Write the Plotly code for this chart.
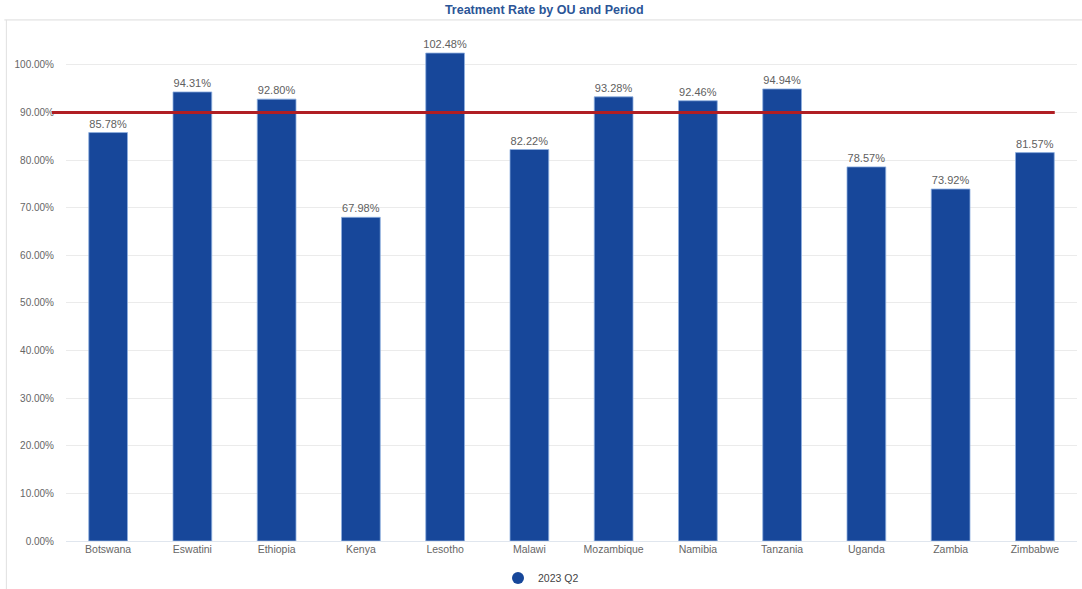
import plotly.graph_objects as go

countries = ["Botswana", "Eswatini", "Ethiopia", "Kenya", "Lesotho", "Malawi",
             "Mozambique", "Namibia", "Tanzania", "Uganda", "Zambia", "Zimbabwe"]
rates_2023q2 = [85.78, 94.31, 92.80, 67.98, 102.48, 82.22,
                93.28, 92.46, 94.94, 78.57, 73.92, 81.57]
target = 90.0
y_ticks = [0, 10, 20, 30, 40, 50, 60, 70, 80, 90, 100]
series_name = "2023 Q2"
title_text = "Treatment Rate by OU and Period"

bar_color = "#17479a"
font_family = "Liberation Sans, Arial, sans-serif"

fig = go.Figure()
fig.add_trace(go.Bar(
    x=countries, y=rates_2023q2,
    marker=dict(color=bar_color, line=dict(color="#8fb0e0", width=0.8)),
    text=[f"{v:.2f}%" for v in rates_2023q2],
    textposition="outside", cliponaxis=False, constraintext="none",
    textfont=dict(size=11, color="#606060", family=font_family),
    showlegend=False, name=series_name,
))
fig.add_trace(go.Scatter(
    x=[None], y=[None], mode="markers", name=series_name,
    marker=dict(symbol="circle", size=10, color=bar_color),
))

fig.add_shape(type="line", xref="paper", yref="y",
              x0=-0.014, x1=0.978, y0=target, y1=target,
              line=dict(color="#b01e23", width=3), layer="above")
# container decorations
fig.add_shape(type="line", xref="paper", yref="paper",
              x0=-0.061, x1=1.005, y0=1.004, y1=1.004,
              line=dict(color="#dcdcdc", width=1))
fig.add_shape(type="line", xref="paper", yref="paper",
              x0=-0.059, x1=-0.059, y0=1.004, y1=-0.1,
              line=dict(color="#e0e0e0", width=1))

fig.update_layout(
    width=1082, height=589,
    margin=dict(l=66, r=5, t=22, b=48),
    paper_bgcolor="white", plot_bgcolor="white",
    bargap=0.54,
    title=dict(text=title_text, x=0.503, xanchor="center", yref="container",
               y=1 - 10 / 589, yanchor="middle",
               font=dict(size=12.5, color="#2b5597", family=font_family, weight="bold")),
    font=dict(family=font_family, color="#666666", size=10),
    xaxis=dict(showgrid=False, showline=False, ticks="", tickfont=dict(size=10.5, color="#666666"),
               tickangle=0, automargin=False),
    yaxis=dict(range=[0, 109], tickvals=y_ticks, ticktext=[f"{v:.2f}%" for v in y_ticks],
               showgrid=True, gridcolor="#ebebeb", gridwidth=1, zeroline=True,
               zerolinecolor="#e0e6ee", zerolinewidth=1, automargin=False,
               tickfont=dict(size=10, color="#666666"), ticks="", ticklen=0,
               ticklabelstandoff=11),
    legend=dict(orientation="h", xref="container", x=498 / 1082, xanchor="left",
                yref="container", y=1 - 578 / 589, yanchor="middle",
                font=dict(size=10.5, color="#444444"), itemsizing="constant"),
)

fig.write_html("out.html", config={"displayModeBar": False},
               post_script="document.body.style.margin='0';")
